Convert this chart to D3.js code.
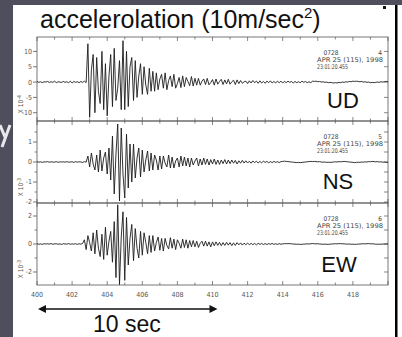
<!DOCTYPE html>
<html>
<head>
<meta charset="utf-8">
<script src="https://cdn.jsdelivr.net/npm/d3@7"></script>
<style>
  body { margin: 0; background: #4e4e5c; }
  svg { display: block; }
  text { font-family: "Liberation Sans", Arial, sans-serif; }
  .small { font-family: "Liberation Sans Narrow", "DejaVu Sans Condensed", sans-serif; }
</style>
</head>
<body>
<script>
// samples every 0.1 sec from 400 sec
var startTime = 400,
    sampleStep = 0.1;

// UD, x 10^-4
var udValues = [
  // 400.0 - 402.8 quiet
  0.2,-0.1,0.1,-0.2,0.1,0,0.2,-0.1,0.1,-0.1,0.3,-0.2,0.1,0,-0.1,0.2,-0.1,0.1,-0.2,0.3,-0.3,0.2,-0.1,0.1,-0.2,0.2,-0.1,0.3,-0.2,
  // onset, strong part
  12.5,-11.5,4,9,-10,8,-3,-7,10,-9,6,-11,2,9,-8,11,-6,-2,7,-9,13.5,-9,10,-8,5,8,-6,
  7,-5,2,6,-4,5,-1,-4,4.5,-3,3.5,-3,
  // coda
  3,-2.5,1,2.5,-2,3,-2.5,0.5,2,-1.5,2.5,-2,-0.5,1.5,-1.8,2,-1.5,1.5,0.2,-1.2,1.8,-1.3,1.2,-1,
  1.2,-1,0.3,1,-0.8,1.2,-0.9,-0.2,0.8,-1,1,-0.7,0.2,0.9,-0.8,0.7,-0.6,0.9,-0.7,0.1,0.6,-0.8,0.7,-0.5,
  0.5,-0.4,0.1,0.3,-0.5,0.4,-0.3,0.5,-0.2,0.3,-0.4,0.4,-0.3,0.2,-0.4,0.3,-0.2,0.4,-0.3,0.2,-0.3,
  0.3,-0.2,0.3,-0.3,0.2,-0.2,0.3,-0.1,0.2,-0.3,0.2,-0.2,0.1,-0.2,0.3,-0.1,0.2,-0.2,0.1,-0.2,
  // tail
  0.3,0.2,0.3,0.1,0.2,0,0.1,-0.1,0,-0.2,-0.1,-0.2,-0.3,-0.2,-0.3,-0.1,-0.2,0,-0.1,0.1,
  0,0.2,0.1,0.3,0.2,0.3,0.2,0.1,0.2,0,0.1,-0.1,0,-0.2,-0.1,-0.2,-0.1,0,-0.1,0.1,
  0,0.1,0.2,0.1,0.2,0,0.1,-0.1,0,0
];

// NS, x 10^-3
var nsValues = [
  0.02,-0.01,0.01,-0.02,0.01,0,0.02,-0.01,0.01,0,-0.01,0.02,-0.02,0.01,0,0.01,-0.01,0.02,-0.01,0,0.01,-0.02,0.02,-0.01,0.01,0,-0.02,0.02,-0.01,
  0.3,-0.25,0.45,-0.1,-0.4,0.35,-0.5,0.6,-0.45,0.2,0.5,-0.6,0.7,
  -0.9,1.3,-1.6,0.4,1.9,-1.95,1.7,-0.6,-1.8,1.4,-1.3,0.9,
  -1.0,0.9,-0.8,0.2,0.7,-0.75,0.6,-0.5,0.1,0.55,-0.45,
  0.45,-0.4,0.35,0.1,-0.4,0.3,-0.35,0.3,-0.05,-0.25,0.35,-0.3,0.25,-0.3,0.05,0.2,-0.25,0.3,-0.2,0.25,-0.2,0.2,-0.25,
  0.2,-0.15,0.05,0.2,-0.2,0.15,-0.15,0.2,-0.12,0.15,-0.15,0.12,-0.1,0.15,-0.12,0.1,-0.12,0.1,-0.08,0.12,-0.1,
  0.1,-0.08,0.1,-0.06,0.08,-0.1,0.06,-0.06,0.08,-0.05,0.06,-0.05,0.04,-0.06,0.05,-0.03,0.04,-0.05,0.03,-0.04,
  0.04,-0.02,0.03,-0.04,0.02,-0.03,0.03,-0.02,0.02,-0.03,
  0.02,0.03,0.04,0.03,0.02,0.01,0,-0.01,-0.02,-0.03,-0.02,-0.03,-0.02,-0.01,0,0.01,0.02,0.03,0.02,0.03,
  0.02,0.01,0.02,0,-0.01,0,-0.02,-0.01,-0.02,-0.01,0,0.01,0,0.02,0.01,0.02,0.03,0.02,0.01,0,
  -0.01,-0.02,-0.03,-0.02,-0.01,-0.02,0,-0.01,0.01,0,0.02,0.01,0.03,0.02,0.01,0.02,0,0.01,-0.01,0,
  -0.02,-0.01,-0.02,-0.03,-0.02,-0.01,0,-0.01,0,0.01
];

// EW, x 10^-3
var ewValues = [
  0.03,-0.02,0.01,-0.03,0.02,0,0.02,-0.01,0.03,-0.02,0.01,0.02,-0.02,0.01,-0.03,0.02,0,-0.01,0.03,-0.02,0.01,-0.01,0.02,-0.03,0.02,-0.01,0.04,
  0.3,-0.4,0.6,0.1,-0.5,0.8,-0.7,1.0,-0.3,-0.9,0.7,-1.1,1.2,-0.8,0.2,
  0.9,-1.3,1.6,
  -2.4,2.8,-2.9,0.5,2.3,-2.6,1.9,-1.5,0.4,
  1.4,-1.2,1.1,-0.3,-1.0,0.9,-0.8,0.8,0.1,-0.7,0.6,-0.6,
  0.6,-0.5,0.1,0.5,-0.45,0.4,-0.5,0.4,-0.1,-0.35,0.45,-0.3,0.35,-0.4,0.3,0.05,-0.3,0.35,-0.25,0.3,-0.3,0.25,-0.2,
  0.25,-0.2,0.2,-0.25,0.05,0.2,-0.15,0.2,-0.15,0.15,-0.2,0.15,-0.12,0.15,-0.1,0.12,-0.12,0.1,-0.1,0.12,-0.08,
  0.1,-0.12,0.08,-0.1,0.1,-0.06,0.08,-0.08,0.06,-0.05,0.07,-0.06,0.05,-0.05,0.04,-0.06,0.05,-0.03,0.04,-0.04,
  0.03,-0.04,0.03,-0.02,0.04,-0.03,0.02,-0.03,0.03,-0.02,
  0.01,0.02,0.03,0.02,0.03,0.01,0,-0.01,-0.02,-0.01,-0.03,-0.02,-0.01,0,0.01,0,0.02,0.03,0.02,0.01,
  0.02,0,-0.01,-0.02,-0.01,-0.02,-0.03,-0.01,0,0.01,0.02,0.01,0.03,0.02,0.02,0.01,0,-0.01,0,-0.02,
  -0.01,-0.03,-0.02,-0.01,0,0.01,0.02,0.01,0.02,0.03,0.01,0.02,0,-0.01,-0.02,-0.01,-0.02,0,-0.01,0.01,
  0,0.02,0.01,0.02,0,-0.01,0,-0.02,-0.01,0
];

var xTickLabels = [400,402,404,406,408,410,412,414,416,418];

var panels = [
  {name: "UD", values: udValues, domain: [-12.7, 14.7], labels: [10,5,0,-5,-10], minor: [], unit: "-4", station: "4", lx: 343, ly: 71},
  {name: "NS", values: nsValues, domain: [-2.05, 2.05], labels: [1,0,-1,-2], minor: [1.5,0.5,-0.5,-1.5], unit: "-3", station: "5", lx: 338, ly: 68},
  {name: "EW", values: ewValues, domain: [-2.93, 2.93], labels: [2,0,-2], minor: [1,-1], unit: "-3", station: "6", lx: 339, ly: 69}
];

var width = 402,
    height = 337;

var svg = d3.select("body").append("svg")
    .attr("width", width)
    .attr("height", height);

// slide background
svg.append("rect").attr("x", 13).attr("y", 5).attr("width", width - 13).attr("height", height - 5).attr("fill", "#fff");
svg.append("rect").attr("x", 395).attr("y", 5).attr("width", 2.5).attr("height", height - 5).attr("fill", "#000");
svg.append("rect").attr("x", 383).attr("y", 6).attr("width", 3).attr("height", 3).attr("fill", "#111");
// piece of a cut off letter on the grey margin
svg.append("path").attr("d", "M0,125L5,137M10,125L2,147")
  .attr("fill", "none").attr("stroke", "#e8e8ee").attr("stroke-width", 3);

var title = svg.append("text")
    .attr("x", 40).attr("y", 28)
    .attr("font-size", 25).attr("fill", "#111")
    .text("accelerolation (10m/sec");
title.append("tspan").attr("font-size", 15).attr("dy", -10).text("2");
title.append("tspan").attr("dy", 10).text(")");

var x = d3.scaleLinear().domain([400, 420]).range([37, 388]);

var panelTop = [37, 121, 203],
    panelBottom = [121, 203, 285];

var line = d3.line()
    .x(function(d, i) { return x(startTime + i * sampleStep); });

svg.append("clipPath").attr("id", "plotclip")
  .append("rect").attr("x", 37).attr("y", 37).attr("width", 351).attr("height", 248);

panels.forEach(function(p, k) {
  var top = panelTop[k], bottom = panelBottom[k];
  var y = d3.scaleLinear().domain(p.domain).range([bottom, top]);
  var g = svg.append("g");

  g.append("rect")
    .attr("x", x(400)).attr("y", top)
    .attr("width", x(420) - x(400)).attr("height", bottom - top)
    .attr("fill", "none").attr("stroke", "#555").attr("stroke-width", 0.8);

  // time ticks on the top and bottom of each panel
  var secs = d3.range(400, 421);
  g.selectAll(".tt").data(secs).enter().append("line")
    .attr("x1", function(d) { return x(d); }).attr("x2", function(d) { return x(d); })
    .attr("y1", top).attr("y2", function(d) { return top + (d % 2 === 0 ? 4 : 2.5); })
    .attr("stroke", "#555").attr("stroke-width", 0.7);
  g.selectAll(".tb").data(secs).enter().append("line")
    .attr("x1", function(d) { return x(d); }).attr("x2", function(d) { return x(d); })
    .attr("y1", bottom).attr("y2", function(d) { return bottom - (d % 2 === 0 ? 4 : 2.5); })
    .attr("stroke", "#555").attr("stroke-width", 0.7);

  // left ticks and labels
  g.selectAll(".yl").data(p.labels).enter().append("line")
    .attr("x1", x(400) - 4).attr("x2", x(400))
    .attr("y1", function(d) { return y(d); }).attr("y2", function(d) { return y(d); })
    .attr("stroke", "#555").attr("stroke-width", 0.8);
  g.selectAll(".ym").data(p.minor).enter().append("line")
    .attr("x1", x(400) - 2.5).attr("x2", x(400))
    .attr("y1", function(d) { return y(d); }).attr("y2", function(d) { return y(d); })
    .attr("stroke", "#555").attr("stroke-width", 0.7);
  g.selectAll(".ytxt").data(p.labels).enter().append("text")
    .attr("class", "small")
    .attr("x", x(400) - 5).attr("y", function(d) { return y(d); })
    .attr("dy", "0.35em").attr("text-anchor", "end")
    .attr("font-size", 7).attr("fill", "#555")
    .text(function(d) { return d; });

  // right ticks
  g.selectAll(".yr").data(p.labels.concat(p.minor)).enter().append("line")
    .attr("x1", x(420) - 4).attr("x2", x(420))
    .attr("y1", function(d) { return y(d); }).attr("y2", function(d) { return y(d); })
    .attr("stroke", "#555").attr("stroke-width", 0.7);

  // unit label
  var uy = (top + bottom) / 2 + 25;
  var u = g.append("text")
    .attr("class", "small")
    .attr("transform", "translate(23," + uy + ") rotate(-90)")
    .attr("text-anchor", "middle")
    .attr("font-size", 6.5).attr("fill", "#555")
    .text("X 10");
  u.append("tspan").attr("font-size", 5.5).attr("dy", -2).text(p.unit);

  // trace
  line.y(function(d) { return y(d); });
  g.append("path")
    .datum(p.values)
    .attr("clip-path", "url(#plotclip)")
    .attr("d", line)
    .attr("fill", "none")
    .attr("stroke", "#1c1c1c")
    .attr("stroke-width", 0.9)
    .attr("stroke-linejoin", "round");

  // station text
  g.append("text").attr("class", "small")
    .attr("x", 331).attr("y", top + 18).attr("text-anchor", "middle")
    .attr("font-size", 6.5).attr("fill", "#444").text("0728");
  g.append("text").attr("class", "small")
    .attr("x", 382).attr("y", top + 18).attr("text-anchor", "end")
    .attr("font-size", 6.5).attr("fill", "#444").text(p.station);
  g.append("text").attr("class", "small")
    .attr("x", 317).attr("y", top + 25)
    .attr("textLength", 66).attr("lengthAdjust", "spacingAndGlyphs")
    .attr("font-size", 6.5).attr("fill", "#444").text("APR 25 (115), 1998");
  g.append("text").attr("class", "small")
    .attr("x", 317).attr("y", top + 32)
    .attr("textLength", 31).attr("lengthAdjust", "spacingAndGlyphs")
    .attr("font-size", 6.5).attr("fill", "#444").text("23:01:20.455");

  g.append("text")
    .attr("x", p.lx).attr("y", top + p.ly).attr("text-anchor", "middle")
    .attr("font-size", 22).attr("fill", "#111").text(p.name);
});

// bottom time labels
svg.selectAll(".xl").data(xTickLabels).enter().append("text")
  .attr("class", "small")
  .attr("x", function(d) { return x(d); }).attr("y", 297)
  .attr("text-anchor", "middle")
  .attr("font-size", 7).attr("fill", "#555")
  .text(function(d) { return d; });

// 10 sec arrow
var ay = 309, a0 = x(400) + 1, a1 = x(410) + 5;
svg.append("line").attr("x1", a0 + 4).attr("x2", a1 - 4).attr("y1", ay).attr("y2", ay)
  .attr("stroke", "#111").attr("stroke-width", 1.5);
svg.append("path").attr("d", "M" + a0 + "," + ay + "l8,-4l0,8z").attr("fill", "#111");
svg.append("path").attr("d", "M" + a1 + "," + ay + "l-8,-4l0,8z").attr("fill", "#111");

svg.append("text").attr("x", 93).attr("y", 332)
  .attr("font-size", 23).attr("fill", "#111").text("10 sec");
</script>
</body>
</html>
